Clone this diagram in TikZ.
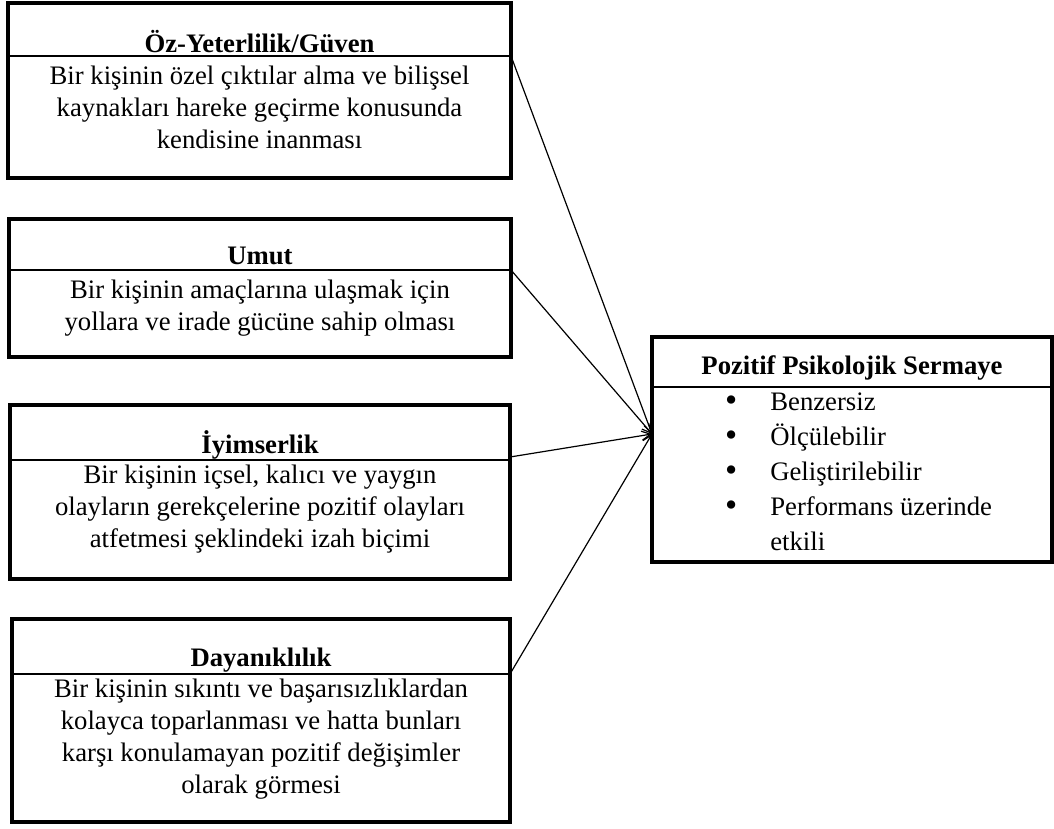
\documentclass[tikz,border=0pt]{standalone}
\usepackage{fontspec}
\setmainfont{Liberation Serif}
\usetikzlibrary{arrows.meta}
\begin{document}
\begin{tikzpicture}[x=1pt,y=-1pt,
  bigbox/.style={draw=black,line width=4pt,inner sep=0pt,outer sep=0pt},
  divider/.style={draw=black,line width=1.5pt},
  titletext/.style={font=\fontsize{26.7}{32}\selectfont\bfseries,inner sep=0pt},
  bodytext/.style={font=\fontsize{26.7}{32}\selectfont,align=center,inner sep=0pt},
  listtext/.style={font=\fontsize{26.7}{35}\selectfont,inner sep=0pt,anchor=west},
  conn/.style={line width=1.2pt,-{Straight Barb[length=9pt,width=9pt]}}]
\useasboundingbox (0,0) rectangle (1054,829);
% left boxes
\node[bigbox,minimum width=503,minimum height=175] (b1) at (259.5,90.5) {};
\node[bigbox,minimum width=502,minimum height=138] (b2) at (260,288) {};
\node[bigbox,minimum width=500,minimum height=174] (b3) at (260,492) {};
\node[bigbox,minimum width=498,minimum height=203] (b4) at (261,720.5) {};
% right box
\node[bigbox,minimum width=400,minimum height=225] (pps) at (852,449.5) {};
% dividers
\draw[divider] (b1.west |- 0,56) -- coordinate (d1) (b1.east |- 0,56);
\draw[divider] (b2.west |- 0,270) -- coordinate (d2) (b2.east |- 0,270);
\draw[divider] (b3.west |- 0,460) -- coordinate (d3) (b3.east |- 0,460);
\draw[divider] (b4.west |- 0,674) -- coordinate (d4) (b4.east |- 0,674);
\draw[divider] (pps.west |- 0,387) -- coordinate (d5) (pps.east |- 0,387);
% texts
\node[titletext] (t1) at (259.5,42) {Öz-Yeterlilik/Güven};
\node[bodytext] (x1) at (259.5,107) {Bir kişinin özel çıktılar alma ve bilişsel\\kaynakları hareke geçirme konusunda\\kendisine inanması};
\node[titletext] (t2) at (260,256) {Umut};
\node[bodytext] (x2) at (260,308) {Bir kişinin amaçlarına ulaşmak için\\yollara ve irade gücüne sahip olması};
\node[titletext] (t3) at (260,445) {İyimserlik};
\node[bodytext] (x3) at (260,509) {Bir kişinin içsel, kalıcı ve yaygın\\olayların gerekçelerine pozitif olayları\\atfetmesi şeklindeki izah biçimi};
\node[titletext] (t4) at (261,660) {Dayanıklılık};
\node[bodytext] (x4) at (261,739) {Bir kişinin sıkıntı ve başarısızlıklardan\\kolayca toparlanması ve hatta bunları\\karşı konulamayan pozitif değişimler\\olarak görmesi};
\node[titletext] (t5) at (852,368) {Pozitif Psikolojik Sermaye};
\node[listtext] (x5) at (725,473) {\begin{tabular}{@{}l@{\hspace{33pt}}l@{}}
\raisebox{-1pt}{\scalebox{1.3}{•}}&Benzersiz\\
\raisebox{-1pt}{\scalebox{1.3}{•}}&Ölçülebilir\\
\raisebox{-1pt}{\scalebox{1.3}{•}}&Geliştirilebilir\\
\raisebox{-1pt}{\scalebox{1.3}{•}}&Performans üzerinde\\
&etkili
\end{tabular}};
% connectors
\coordinate (s1) at (b1.east |- 0,56);
\coordinate (s2) at (b2.east |- 0,270);
\coordinate (s3) at (b3.east |- 0,457);
\coordinate (s4) at (b4.east |- 0,674);
\coordinate (tg) at (pps.west |- 0,434);
\draw[conn] (s1) -- (tg);
\draw[conn] (s2) -- (tg);
\draw[conn] (s3) -- (tg);
\draw[conn] (s4) -- (tg);
\end{tikzpicture}
\end{document}
